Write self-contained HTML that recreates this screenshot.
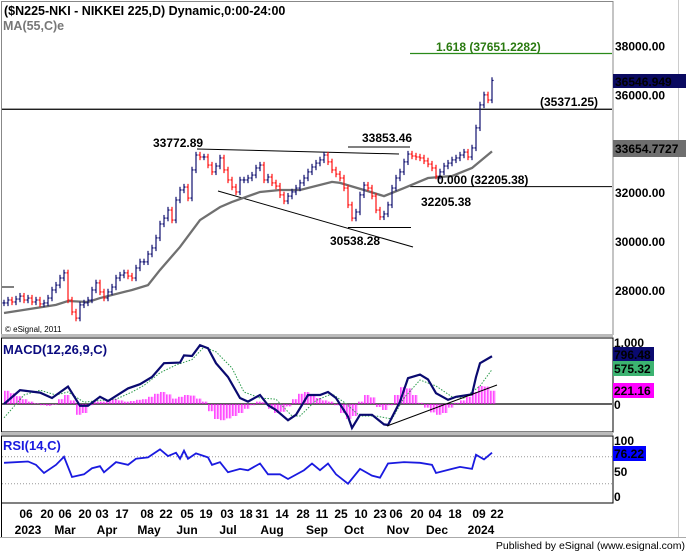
<!DOCTYPE html>
<html><head><meta charset="utf-8"><style>
body{margin:0;background:#fff}
svg{display:block;font-family:"Liberation Sans",Arial,sans-serif}
.ax{font-size:12px;font-weight:bold;fill:#000}
</style></head><body>
<svg id="chart" width="686" height="552" viewBox="0 0 686 552">
<rect x="0" y="0" width="686" height="552" fill="#fff"/>
<rect x="1.5" y="1.5" width="611.5" height="333" fill="none" stroke="#888"/>
<rect x="1.5" y="338" width="611.5" height="94" fill="none" stroke="#000"/>
<rect x="1.5" y="436" width="611.5" height="67" fill="none" stroke="#000"/>
<rect x="1" y="334" width="612" height="3" fill="#bbb"/>
<rect x="1" y="432" width="612" height="3" fill="#bbb"/>
<line x1="1.5" y1="503" x2="1.5" y2="537" stroke="#000"/>
<line x1="678.5" y1="0" x2="678.5" y2="537" stroke="#ccc"/>
<line x1="0" y1="537.5" x2="686" y2="537.5" stroke="#aaa"/>
<text x="4" y="15" font-size="12.5" font-weight="bold">($N225-NKI - NIKKEI 225,D) Dynamic,0:00-24:00</text>
<text x="3" y="30" font-size="12.5" font-weight="bold" fill="#777">MA(55,C)e</text>
<text x="5" y="332" font-size="8" fill="#000">© eSignal, 2011</text>
<text x="3" y="354" font-size="13" font-weight="bold" fill="#0b0b80">MACD(12,26,9,C)</text>
<text x="3" y="450" font-size="13" font-weight="bold" fill="#1a1ae0">RSI(14,C)</text>
<text x="685" y="549" font-size="10.5" text-anchor="end" fill="#000">Published by eSignal (www.esignal.com)</text>
<g id="price"></g><g id="macd"></g><g id="rsi"></g><g id="axes"></g>
</svg>
<script>
const closes=[27450,27570,27490,27610,27730,27570,27650,27490,27570,27410,27450,27650,27980,28180,28470,28680,27570,27080,26830,27370,27450,27570,27980,28270,27900,27650,27900,28100,28470,28590,28680,28550,28470,28880,29130,29130,29450,29700,30110,30680,30920,31250,30840,31660,32070,32190,31740,32890,33500,33420,33420,33090,32810,33050,33380,32890,32480,32190,31990,32480,32480,32560,32680,32970,33090,32480,32600,32360,32230,31870,31620,31820,31990,32150,32360,32560,32810,33010,33170,33300,33500,33220,32890,32720,32560,32150,31460,30920,31170,31870,32270,32150,31820,31250,30970,31090,31460,32150,32560,32810,33220,33540,33460,33420,33380,33260,33130,32970,32640,32810,33050,33170,33300,33380,33500,33620,33420,33790,34610,35550,35960,35750,36550];
const maT=[0,13,16,21,24,32,36,39,44,49,54,57,64,69,74,82,84,90,95,100,106,112,117,122];
const maVals=[27040,27370,27530,27490,27650,27980,28180,28800,29740,30840,31370,31580,31990,32070,32070,32400,32360,32070,31820,32150,32560,32640,32970,33650];
const macdT=[0,4,9,12,16,19,21,24,26,31,34,37,40,44,45,47,49,51,53,56,59,61,64,66,68,71,73,76,79,81,83,86,87,89,92,95,96,99,101,104,106,108,111,113,117,118,119,122];
const macdVals=[0,230,190,100,290,-30,-30,120,50,260,330,450,680,690,810,800,980,930,680,450,100,40,150,-20,-100,-270,-180,150,150,200,100,-210,-400,-180,-180,-340,-350,40,430,490,410,180,70,120,160,450,680,796];
const sigT=[0,5,9,13,16,20,24,28,32,35,39,43,47,50,53,57,60,64,68,72,74,78,82,85,89,93,97,100,104,108,112,115,119,122];
const sigVals=[-230,150,230,150,200,30,60,80,200,310,520,650,740,950,870,600,200,100,80,-200,-200,60,170,30,-200,-200,-250,100,400,300,120,100,300,575];
const histVals=[220,180,130,80,40,10,-20,-30,-10,80,150,60,-180,-150,-20,40,40,60,80,60,40,50,70,80,120,170,200,160,90,120,150,140,90,40,-120,-250,-270,-240,-200,-150,-80,-20,40,30,-80,-150,-130,-40,80,170,200,160,100,60,40,-20,-150,-250,-200,40,150,110,-50,-100,-20,150,280,260,150,20,-60,-140,-180,-150,-60,20,60,120,200,300,290,221];
const rsiT=[0,6,8,10,13,15,17,20,22,24,25,28,31,33,36,39,41,43,44,45,46,48,51,52,54,56,59,61,64,66,69,71,75,77,79,81,83,86,89,92,94,96,100,104,107,108,112,114,117,118,120,122];
const rsiVals=[61,63,58,46,58,70,40,44,53,56,47,62,58,67,69,81,71,76,67,79,67,75,69,58,62,47,52,50,60,44,44,37,50,60,50,60,44,30,52,42,39,60,62,61,58,46,52,55,52,73,66,76];
const priceTicks=[38000,36000,34000,32000,30000,28000];
const dayLabels=["06","20","06","20","03","17","08","22","05","19","03","18","31","14","28","11","25","10","23","06","20","04","18","09","22"];
const dayT=[5.5,10.75,15.25,20.25,24.5,29.5,35.75,40.5,45.75,50.5,55.75,60.5,64.5,69.5,74.75,79.5,84.25,89.25,94,98,103.25,107.75,112.75,118.75,123.25];
const monthLabels=["2023","Mar","Apr","May","Jun","Jul","Aug","Sep","Oct","Nov","Dec","2024"];
const monthT=[6,15.25,25.75,36.25,45.75,56,67,78.25,87.5,98.5,108.25,119.25];

const NS="http://www.w3.org/2000/svg";
const xS=t=>4+4*t;
const yP=v=>45+(38000-v)*0.02445;
const yM=v=>404-v*0.06;
const yR=v=>504-v*0.675;
function mk(parent,tag,attrs){const e=document.createElementNS(NS,tag);for(const k in attrs)e.setAttribute(k,attrs[k]);parent.appendChild(e);return e;}
function txt(parent,x,y,s,attrs){const e=mk(parent,'text',Object.assign({x:x,y:y},attrs||{}));e.textContent=s;return e;}
const gP=document.getElementById('price'),gM=document.getElementById('macd'),gR=document.getElementById('rsi'),gA=document.getElementById('axes');

let l;
l=mk(gP,'line',{x1:2,y1:yP(35371.25),x2:612,y2:yP(35371.25),stroke:'#000','stroke-width':1.2});


l=mk(gP,'line',{x1:410,y1:yP(37651.23),x2:612,y2:yP(37651.23),stroke:'#2a8a1a','stroke-width':1.2});


l=mk(gP,'line',{x1:410,y1:yP(32205.38),x2:612,y2:yP(32205.38),stroke:'#000','stroke-width':1});


l=mk(gP,'line',{x1:197,y1:149,x2:399,y2:154,stroke:'#000','stroke-width':1});


l=mk(gP,'line',{x1:348,y1:147,x2:410,y2:147,stroke:'#000','stroke-width':1});


l=mk(gP,'line',{x1:218,y1:191,x2:413,y2:247,stroke:'#000','stroke-width':1});


l=mk(gP,'line',{x1:348,y1:yP(30538.28),x2:411,y2:yP(30538.28),stroke:'#000','stroke-width':1});


l=mk(gP,'line',{x1:2,y1:287,x2:14,y2:287,stroke:'#000','stroke-width':1});



const maPts=maT.map((t,i)=>xS(t)+','+yP(maVals[i])).join(' ');
l=mk(gP,'polyline',{points:maPts,fill:'none',stroke:'#707070','stroke-width':2.3});



closes.forEach((c,i)=>{
  const o=i>0?closes[i-1]:c;
  const col=c<o?'#ff1010':'#101070';
  const hi=Math.max(o,c)+130,lo=Math.min(o,c)-130;
  const x=xS(i);
  const g=mk(gP,'g',{stroke:col,'stroke-width':1.2});
  
  
  mk(g,'line',{x1:x,y1:yP(hi),x2:x,y2:yP(lo)});
  mk(g,'line',{x1:x-1.6,y1:yP(o),x2:x,y2:yP(o)});
  mk(g,'line',{x1:x,y1:yP(c),x2:x+1.6,y2:yP(c)});
});

const lab=(x,y,s,name,fill,anchor)=>{const e=txt(gP,x,y,s,{'font-size':12,'font-weight':'bold',fill:fill||'#000','text-anchor':anchor||'start'});};
lab(153,147,'33772.89','label-33772');
lab(362,142,'33853.46','label-33853');
lab(330,245,'30538.28','label-30538');
lab(421,206,'32205.38','label-32205');
lab(437,184,'0.000 (32205.38)','label-fib-0');
lab(540,106,'(35371.25)','label-35371');
lab(436,51,'1.618 (37651.2282)','label-fib-1618','#2a7a10');

// axes: ticks first, value boxes on top
priceTicks.forEach(v=>{const e=txt(gA,615,yP(v)+5.5,v.toFixed(2),{class:'ax'});});
let t=txt(gA,614,347,'1,000',{class:'ax'});


t=txt(gA,614,409,'0',{class:'ax'});


[[100,445],[50,476],[0,501]].forEach(a=>{const e=txt(gA,614,a[1],String(a[0]),{class:'ax'});});

let r=mk(gA,'rect',{x:613,y:74,width:73,height:14,fill:'#0a0a60'});


t=txt(gA,615,86,'36546.949',{class:'ax',fill:'#fff'});


r=mk(gA,'rect',{x:613,y:140,width:73,height:17,fill:'#6e6e6e'});


t=txt(gA,615,153,'33654.7727',{class:'ax',fill:'#fff'});



// MACD panel
l=mk(gM,'line',{x1:2,y1:yM(0),x2:612,y2:yM(0),stroke:'#000','stroke-width':1.2});


histVals.forEach((v,j)=>{
  for(let k=0;k<4;k++){
    const x=xS(j*1.5)+k*1.5;
    const y0=yM(0),y1=yM(v);
    const b=mk(gM,'rect',{x:x,y:Math.min(y0,y1),width:0.7,height:Math.abs(y1-y0),fill:'#ff00ff'});
    
    
  }
});
l=mk(gM,'polyline',{points:sigT.map((t,i)=>xS(t)+','+yM(sigVals[i])).join(' '),fill:'none',stroke:'#2a9a4a','stroke-width':1,'stroke-dasharray':'1.5,1.5'});


l=mk(gM,'polyline',{points:macdT.map((t,i)=>xS(t)+','+yM(macdVals[i])).join(' '),fill:'none',stroke:'#0a0a70','stroke-width':2.2});


l=mk(gM,'line',{x1:387,y1:426,x2:497,y2:385,stroke:'#000','stroke-width':1});


[[347,'#0a0a70','796.48','macd-value',14],[361,'#3cb371','575.32','signal-value',15],[383,'#ff00ff','221.16','hist-value',15]].forEach(a=>{
  const bx=mk(gA,'rect',{x:613,y:a[0],width:41,height:a[4],fill:a[1]});
  
  
  const tt=txt(gA,614,a[0]+12,a[2],{class:'ax',fill:'#fff'});
  
  
});

// RSI panel
[70,30].forEach(v=>{const d=mk(gR,'line',{x1:2,y1:yR(v),x2:612,y2:yR(v),stroke:'#999','stroke-width':1,'stroke-dasharray':'1,2'});});
l=mk(gR,'polyline',{points:rsiT.map((t,i)=>xS(t)+','+yR(rsiVals[i])).join(' '),fill:'none',stroke:'#1a1ae0','stroke-width':1.8});


r=mk(gA,'rect',{x:613,y:446,width:33,height:15,fill:'#0000ff'});


t=txt(gA,614,458,'76.22',{class:'ax',fill:'#fff'});



// date axis
dayLabels.forEach((s,i)=>{const e=txt(gA,xS(dayT[i]),518,s,{class:'ax','text-anchor':'middle'});});
monthLabels.forEach((s,i)=>{const e=txt(gA,xS(monthT[i]),534,s,{class:'ax','text-anchor':'middle','font-size':13});});
</script>
</body></html>
